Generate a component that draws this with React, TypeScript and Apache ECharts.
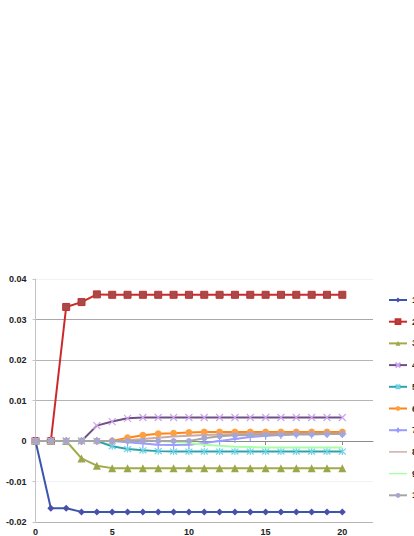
import React, { useEffect, useRef } from "react";
import * as echarts from "echarts";

const xValues = [0, 1, 2, 3, 4, 5, 6, 7, 8, 9, 10, 11, 12, 13, 14, 15, 16, 17, 18, 19, 20];

const seriesNames = ["1", "2", "3", "4", "5", "6", "7", "8", "9", "10"];

const s1 = [0, -0.0166, -0.0166, -0.0175, -0.0175, -0.0175, -0.0175, -0.0175, -0.0175, -0.0175, -0.0175, -0.0175, -0.0175, -0.0175, -0.0175, -0.0175, -0.0175, -0.0175, -0.0175, -0.0175, -0.0175];
const s2 = [0, 0, 0.0331, 0.0343, 0.0362, 0.0361, 0.0361, 0.0361, 0.0361, 0.0361, 0.0361, 0.0361, 0.0361, 0.0361, 0.0361, 0.0361, 0.0361, 0.0361, 0.0361, 0.0361, 0.0361];
const s3 = [0, 0, 0, -0.0043, -0.0061, -0.0067, -0.0067, -0.0067, -0.0067, -0.0067, -0.0067, -0.0067, -0.0067, -0.0067, -0.0067, -0.0067, -0.0067, -0.0067, -0.0067, -0.0067, -0.0067];
const s4 = [0, 0, 0, 0, 0.0038, 0.0048, 0.0056, 0.0058, 0.0058, 0.0058, 0.0058, 0.0058, 0.0058, 0.0058, 0.0058, 0.0058, 0.0058, 0.0058, 0.0058, 0.0058, 0.0058];
const s5 = [0, 0, 0, 0, 0, -0.0013, -0.002, -0.0023, -0.0025, -0.0026, -0.0026, -0.0026, -0.0026, -0.0026, -0.0026, -0.0026, -0.0026, -0.0026, -0.0026, -0.0026, -0.0026];
const s6 = [0, 0, 0, 0, 0, 0, 0.0008, 0.0014, 0.0018, 0.0019, 0.0021, 0.0022, 0.0022, 0.0022, 0.0022, 0.0022, 0.0022, 0.0022, 0.0022, 0.0022, 0.0022];
const s7 = [0, 0, 0, 0, 0, 0, -0.0003, -0.0006, -0.0009, -0.001, -0.0009, -0.0005, 0, 0.0005, 0.001, 0.0013, 0.0015, 0.0016, 0.0016, 0.0017, 0.0017];
const s8 = [0, 0, 0, 0, 0, 0, 0.0002, 0.0005, 0.0008, 0.0011, 0.0013, 0.0015, 0.0016, 0.0017, 0.0018, 0.0018, 0.0018, 0.0018, 0.0018, 0.0018, 0.0018];
const s9 = [0, 0, 0, 0, 0, 0, 0, 0, 0, -0.0002, -0.0005, -0.0009, -0.0012, -0.0014, -0.0015, -0.0016, -0.0016, -0.0016, -0.0016, -0.0016, -0.0016];
const s10 = [0, 0, 0, 0, 0, 0, 0, 0, 0, 0, 0, 0.0007, 0.0012, 0.0014, 0.0015, 0.0016, 0.0016, 0.0017, 0.0017, 0.0017, 0.0017];

const allValues = [s1, s2, s3, s4, s5, s6, s7, s8, s9, s10];

const yTickValues = [-0.02, -0.01, 0, 0.01, 0.02, 0.03, 0.04];

const lineColors = ["#3a56b0", "#cc2a2a", "#a2aa48", "#6e4f86", "#2fa3ad", "#ff8418", "#9a9cff", "#c9aaa8", "#a8ffa8", "#a6a6a6"];
const markerColors = ["#4b4fa8", "#a84a4a", "#9ea64c", "#cda4ec", "#6fd3e6", "#ffa040", "#9a9cff", "#c9aaa8", "#a8ffa8", "#a5a5d8"];
const symbols = [
  "diamond",
  "rect",
  "triangle",
  "path://M0,0L10,10M10,0L0,10",
  "path://M0,0L10,10M10,0L0,10M5,-1L5,11",
  "circle",
  "path://M5,0L5,10M0,5L10,5",
  "none",
  "none",
  "circle",
];
const symbolSizes = [7, 7, 8, 7, 7, 7, 8, 0, 0, 6];

const FONT = "'Liberation Sans', Arial, sans-serif";

export default function App() {
  const ref = useRef<HTMLDivElement>(null);

  useEffect(() => {
    if (!ref.current) return;
    const chart = echarts.init(ref.current, null, { renderer: "svg" });

    const series = seriesNames.map((name, i) => {
      const isPath = symbols[i].startsWith("path://");
      return {
        name,
        type: "line",
        data: xValues.map((x, j) => [x, allValues[i][j]]),
        symbol: symbols[i],
        symbolSize: symbolSizes[i],
        showSymbol: symbols[i] !== "none",
        lineStyle: { color: lineColors[i], width: 2 },
        itemStyle: isPath
          ? { color: markerColors[i], borderColor: markerColors[i], borderWidth: 1.2 }
          : { color: markerColors[i], borderColor: i === 1 ? "#c03030" : markerColors[i], borderWidth: i === 1 ? 1 : 0 },
        emphasis: { disabled: true },
        z: 2 + i,
      };
    });

    const legendData = seriesNames.map((name, i) =>
      symbols[i] === "none"
        ? { name, icon: "path://M0,4.2L20,4.2L20,5.8L0,5.8Z", itemStyle: { color: lineColors[i], borderWidth: 0 } }
        : { name }
    );

    chart.setOption({
      animation: false,
      backgroundColor: "#ffffff",
      grid: { left: 35.5, right: 41, top: 279, bottom: 9, containLabel: false },
      legend: {
        orient: "vertical",
        left: 388,
        top: 295,
        itemWidth: 18,
        itemHeight: 6,
        itemGap: 11.7,
        padding: 0,
        data: legendData,
        textStyle: { fontSize: 9, fontWeight: "bold", color: "#222", fontFamily: FONT, lineHeight: 10 },
      },
      xAxis: {
        type: "value",
        min: 0,
        max: 22,
        interval: 5,
        axisLine: { onZero: true, lineStyle: { color: "#8c8c8c", width: 1 } },
        axisTick: { show: true, length: 4, lineStyle: { color: "#8c8c8c" } },
        axisLabel: {
          fontSize: 9,
          fontWeight: "bold",
          color: "#222",
          fontFamily: FONT,
          margin: 5,
          showMaxLabel: false,
          formatter: (v: number) => (v % 5 === 0 ? String(v) : ""),
        },
        splitLine: { show: false },
      },
      yAxis: {
        type: "value",
        min: yTickValues[0],
        max: yTickValues[yTickValues.length - 1],
        interval: 0.01,
        axisLine: { show: true, onZero: false, lineStyle: { color: "#c4c4c4" } },
        axisTick: { show: true, length: 3, lineStyle: { color: "#c4c4c4" } },
        axisLabel: {
          fontSize: 9,
          fontWeight: "bold",
          color: "#222",
          fontFamily: FONT,
          margin: 9,
          formatter: (v: number) => {
            const r = Math.round(v * 100) / 100;
            return r === 0 ? "0" : r.toFixed(2);
          },
        },
        splitLine: {
          show: true,
          lineStyle: {
            color: ["#b4b4b4", "#f2f2f2", "#9a9a9a", "#b4b4b4", "#b4b4b4", "#a8a8a8", "#f2f2f2"],
            width: 1,
          },
        },
      },
      series,
    });

    return () => chart.dispose();
  }, []);

  return (
    <div
      ref={ref}
      style={{ position: "fixed", left: 0, top: 0, width: 414, height: 536, background: "#fff" }}
    />
  );
}
